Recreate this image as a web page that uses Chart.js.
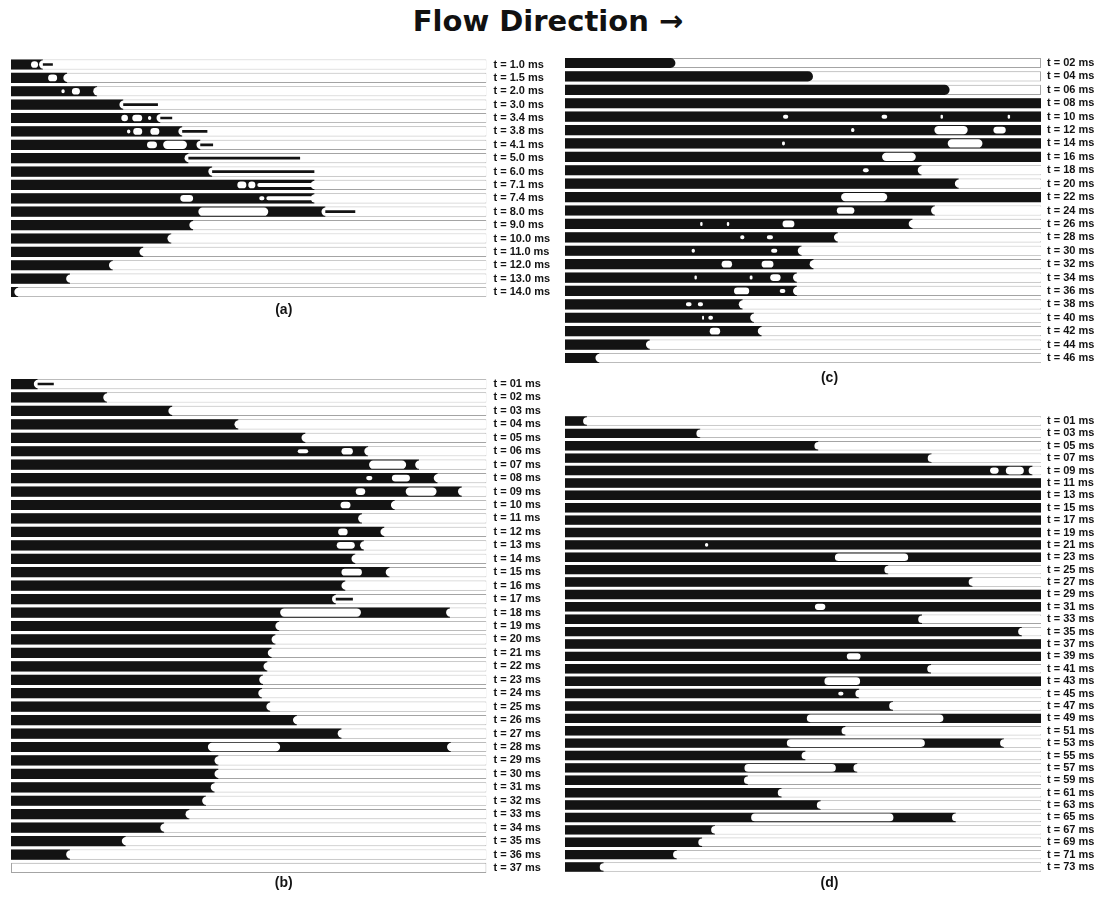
<!DOCTYPE html>
<html>
<head>
<meta charset="utf-8">
<script src="https://cdn.jsdelivr.net/npm/chart.js@4.4.1/dist/chart.umd.min.js"></script>
<style>
  html, body { margin: 0; padding: 0; background: #fff; }
  #page { position: relative; width: 1096px; height: 898px; overflow: hidden; background: #fff; }
  #heading { position: absolute; left: 0; top: 4px; width: 1096px; height: 40px; line-height: 40px;
             text-align: center; font: bold 29px 'DejaVu Sans', sans-serif; color: #111; }
  canvas { position: absolute; }
</style>
</head>
<body>
<div id="page">
  <div id="heading">Flow Direction →</div>
  <canvas id="panelA"></canvas>
  <canvas id="panelB"></canvas>
  <canvas id="panelC"></canvas>
  <canvas id="panelD"></canvas>
</div>
<script>
// Positions are % of channel length (0 = inlet, 100 = outlet).
// liquid*: extent of the liquid column in each frame.
// slugs/bubbles/dots: gas pockets inside the liquid as [row, start, end].
// films: thin liquid films left on the wall as [row, start, end].

// ---------- (a) ----------
const labelsA = ['t = 1.0 ms','t = 1.5 ms','t = 2.0 ms','t = 3.0 ms','t = 3.4 ms','t = 3.8 ms','t = 4.1 ms',
  't = 5.0 ms','t = 6.0 ms','t = 7.1 ms','t = 7.4 ms','t = 8.0 ms','t = 9.0 ms','t = 10.0 ms','t = 11.0 ms',
  't = 12.0 ms','t = 13.0 ms','t = 14.0 ms'];
const liquidA = [6.7, 11.8, 18.1, 23.6, 31.4, 36.0, 39.8, 37.3, 42.3, 63.8, 63.8, 66.1, 38.3, 33.7, 27.8, 21.4, 12.4, 1.5];
const slugsA = [[6, 32.0, 37.0], [11, 39.4, 54.1]];
const bubblesA = [[0, 4.2, 5.7], [1, 7.8, 9.7], [2, 12.8, 14.5], [4, 23.2, 24.6], [4, 25.5, 27.6],
  [5, 25.7, 27.6], [5, 29.3, 31.2], [6, 28.6, 30.7], [9, 47.6, 49.5], [9, 49.9, 51.4], [10, 35.6, 38.3]];
const dotsA = [[2, 10.6, 11.3], [4, 28.8, 29.5], [5, 24.4, 25.1], [9, 51.8, 63.4], [10, 52.2, 53.3], [10, 53.7, 63.4]];
const filmsA = [[0, 6.7, 8.8], [3, 23.6, 30.9], [4, 31.4, 33.9], [5, 36.0, 41.3], [6, 39.8, 42.5],
  [7, 37.3, 60.8], [8, 42.3, 63.8], [11, 66.1, 72.4]];
const convexA = [];

// ---------- (b) ----------
const labelsB = ['t = 01 ms','t = 02 ms','t = 03 ms','t = 04 ms','t = 05 ms','t = 06 ms','t = 07 ms','t = 08 ms',
  't = 09 ms','t = 10 ms','t = 11 ms','t = 12 ms','t = 13 ms','t = 14 ms','t = 15 ms','t = 16 ms','t = 17 ms',
  't = 18 ms','t = 19 ms','t = 20 ms','t = 21 ms','t = 22 ms','t = 23 ms','t = 24 ms','t = 25 ms','t = 26 ms',
  't = 27 ms','t = 28 ms','t = 29 ms','t = 30 ms','t = 31 ms','t = 32 ms','t = 33 ms','t = 34 ms','t = 35 ms',
  't = 36 ms','t = 37 ms'];
const liquidB = [5.6, 20.2, 33.9, 47.8, 61.9, 75.1, 85.8, 89.7, 94.8, 80.7, 73.8, 78.5, 74.2, 72.4, 79.6, 70.3, 68.3,
  92.3, 56.4, 55.6, 54.8, 53.9, 53.0, 52.8, 54.5, 60.1, 69.5, 92.5, 43.6, 43.6, 42.8, 41.0, 37.5, 32.2, 24.1, 12.4, 0];
const slugsB = [[6, 75.3, 83.1], [8, 83.0, 89.5], [17, 56.6, 73.6], [27, 41.4, 56.6]];
const bubblesB = [[5, 69.5, 71.9], [7, 80.1, 83.9], [8, 72.5, 74.5], [9, 69.3, 71.4], [11, 68.8, 70.8],
  [12, 68.5, 72.3], [14, 69.5, 73.8]];
const dotsB = [[5, 60.3, 62.5], [7, 74.7, 76.0]];
const filmsB = [[0, 5.6, 9.0], [16, 68.3, 71.9]];
const convexB = [];

// ---------- (c) ----------
const labelsC = ['t = 02 ms','t = 04 ms','t = 06 ms','t = 08 ms','t = 10 ms','t = 12 ms','t = 14 ms','t = 16 ms',
  't = 18 ms','t = 20 ms','t = 22 ms','t = 24 ms','t = 26 ms','t = 28 ms','t = 30 ms','t = 32 ms','t = 34 ms',
  't = 36 ms','t = 38 ms','t = 40 ms','t = 42 ms','t = 44 ms','t = 46 ms'];
const liquidC = [23.2, 52.1, 80.8, 100, 100, 100, 100, 100, 74.9, 82.7, 100, 77.7, 73.0, 57.3, 49.7, 52.2, 48.7,
  48.7, 37.3, 39.7, 41.3, 17.8, 7.2];
const slugsC = [[5, 77.6, 84.6], [6, 80.4, 87.7], [7, 66.6, 73.7], [10, 58.0, 67.7]];
const bubblesC = [[5, 90.0, 92.6], [11, 57.1, 60.8], [12, 45.7, 48.2], [15, 32.9, 35.1], [15, 41.3, 43.8],
  [16, 43.1, 45.3], [17, 35.5, 38.7], [20, 30.4, 32.6]];
const dotsC = [[4, 45.8, 46.9], [4, 66.5, 67.7], [4, 78.9, 79.4], [4, 93.0, 93.5], [5, 60.1, 60.8], [6, 45.6, 46.2],
  [8, 62.6, 63.8], [12, 28.4, 28.9], [12, 34.0, 34.5], [13, 36.8, 37.7], [13, 42.4, 43.7], [14, 26.6, 27.3],
  [14, 43.3, 44.6], [16, 27.2, 27.7], [16, 38.8, 39.4], [17, 45.1, 46.3], [18, 25.4, 26.6], [18, 27.9, 29.0],
  [19, 28.8, 29.2], [19, 30.1, 31.1]];
const filmsC = [];
const convexC = [0, 1, 2];

// ---------- (d) ----------
const labelsD = ['t = 01 ms','t = 03 ms','t = 05 ms','t = 07 ms','t = 09 ms','t = 11 ms','t = 13 ms','t = 15 ms',
  't = 17 ms','t = 19 ms','t = 21 ms','t = 23 ms','t = 25 ms','t = 27 ms','t = 29 ms','t = 31 ms','t = 33 ms',
  't = 35 ms','t = 37 ms','t = 39 ms','t = 41 ms','t = 43 ms','t = 45 ms','t = 47 ms','t = 49 ms','t = 51 ms',
  't = 53 ms','t = 55 ms','t = 57 ms','t = 59 ms','t = 61 ms','t = 63 ms','t = 65 ms','t = 67 ms','t = 69 ms',
  't = 71 ms','t = 73 ms'];
const liquidD = [4.6, 28.4, 53.2, 77.0, 98.2, 100, 100, 100, 100, 100, 100, 100, 67.9, 85.6, 100, 100, 75.0, 96.0,
  100, 100, 76.9, 100, 61.8, 68.9, 100, 58.9, 92.2, 50.5, 61.4, 38.4, 45.5, 53.7, 82.1, 31.5, 28.8, 23.5, 8.1];
const slugsD = [[4, 92.6, 96.4], [11, 56.7, 72.1], [21, 54.5, 62.0], [24, 50.8, 79.5], [26, 46.6, 75.6],
  [28, 37.7, 56.9], [32, 39.1, 69.0]];
const bubblesD = [[4, 89.3, 91.1], [15, 52.5, 54.7], [19, 59.2, 62.1]];
const dotsD = [[10, 29.4, 30.1], [22, 57.4, 58.5]];
const filmsD = [];
const convexD = [];

// ---------- drawing ----------
const INK = '#131313';
const FONT = "'Liberation Sans', Arial, sans-serif";
const MENISCUS = 0.8;   // depth of a concave gas front, % of channel length
const CH = 0.76, SLUG = 0.62, BUB = 0.5, DOT = 0.3, FILM = 0.2;
Chart.defaults.font.family = FONT;

// Spread [row, start, end] items over as many datasets as needed (one item per row per dataset).
function slotSets(items, n, base) {
  const slots = [];
  const used = {};
  items.forEach(([row, s, e]) => {
    const k = used[row] = (used[row] === undefined ? 0 : used[row] + 1);
    if (!slots[k]) slots[k] = new Array(n).fill(null);
    slots[k][row] = [s, e];
  });
  return slots.map((data, k) => Object.assign({}, base, { label: base.label + ' ' + (k + 1), data }));
}

function drawPanel(id, p, g) {
  const n = p.labels.length;
  const canvas = document.getElementById(id);
  canvas.width = g.cw; canvas.height = g.ch;
  canvas.style.left = g.cl + 'px'; canvas.style.top = g.ct + 'px';
  const titleLH = 14 * 1.2;
  const titlePadTop = Math.max(0, g.titleY - g.y1 - titleLH / 2);
  const common = { grouped: false, categoryPercentage: 1, borderSkipped: false, borderWidth: 0 };
  const datasets = [
    Object.assign({}, common, { label: 'channel', data: p.labels.map(() => [0, 100]), backgroundColor: '#fff',
      borderColor: '#a4a4a4', borderWidth: 1, barPercentage: CH, order: 9 }),
    Object.assign({}, common, { label: 'liquid', data: p.liquid.map(v => v > 0 ? [0, v] : null),
      backgroundColor: INK, barPercentage: CH, order: 8,
      borderRadius: ctx => p.convex.includes(ctx.dataIndex)
        ? { topLeft: 0, bottomLeft: 0, topRight: 99, bottomRight: 99 } : 0 }),
    Object.assign({}, common, { label: 'gas front',
      data: p.liquid.map((v, i) => (v > 0 && v < 100 && !p.convex.includes(i)) ? [v - MENISCUS, 100] : null),
      backgroundColor: '#fff', barPercentage: SLUG, order: 7,
      borderRadius: { topLeft: 99, bottomLeft: 99, topRight: 0, bottomRight: 0 } }),
    ...slotSets(p.slugs, n, Object.assign({}, common, { label: 'slug', backgroundColor: '#fff', barPercentage: SLUG, borderRadius: 99, order: 6 })),
    ...slotSets(p.bubbles, n, Object.assign({}, common, { label: 'bubble', backgroundColor: '#fff', barPercentage: BUB, borderRadius: 99, order: 5 })),
    ...slotSets(p.films, n, Object.assign({}, common, { label: 'film', backgroundColor: INK, barPercentage: FILM, order: 4 })),
    ...slotSets(p.dots, n, Object.assign({}, common, { label: 'dot', backgroundColor: '#fff', barPercentage: DOT, borderRadius: 99, order: 3 }))
  ];
  new Chart(canvas, {
    type: 'bar',
    data: { labels: p.labels, datasets },
    options: {
      indexAxis: 'y',
      responsive: false,
      animation: false,
      events: [],
      layout: { padding: {
        left: g.x0 - g.cl,
        top: g.y0 - g.ct,
        right: g.cl + g.cw - g.x1 - g.axisW,
        bottom: g.ct + g.ch - g.y1 - titlePadTop - titleLH } },
      plugins: {
        legend: { display: false },
        tooltip: { enabled: false },
        title: { display: true, position: 'bottom', text: p.title, color: INK,
          font: { family: FONT, size: 14, weight: 'bold', lineHeight: 1.2 },
          padding: { top: titlePadTop, bottom: 0 } }
      },
      scales: {
        x: { type: 'linear', min: 0, max: 100, display: false },
        y: { type: 'category', position: 'right', offset: true,
          grid: { display: false, drawTicks: false }, border: { display: false },
          ticks: { color: INK, font: { family: FONT, size: 11, weight: 'bold' }, padding: g.tickPad,
            autoSkip: false },
          afterFit: s => { s.width = g.axisW; } }
      }
    }
  });
}

drawPanel('panelA',
  { title: '(a)', labels: labelsA, liquid: liquidA, slugs: slugsA, bubbles: bubblesA, dots: dotsA, films: filmsA, convex: convexA },
  { cl: 0, ct: 40, cw: 560, ch: 285, x0: 11, x1: 486.5, y0: 57.8, y1: 298.7, titleY: 310, axisW: 70, tickPad: 7 });
drawPanel('panelB',
  { title: '(b)', labels: labelsB, liquid: liquidB, slugs: slugsB, bubbles: bubblesB, dots: dotsB, films: filmsB, convex: convexB },
  { cl: 0, ct: 355, cw: 560, ch: 543, x0: 11, x1: 486.5, y0: 377.3, y1: 874.7, titleY: 883, axisW: 70, tickPad: 7 });
drawPanel('panelC',
  { title: '(c)', labels: labelsC, liquid: liquidC, slugs: slugsC, bubbles: bubblesC, dots: dotsC, films: filmsC, convex: convexC },
  { cl: 548, ct: 36, cw: 548, ch: 362, x0: 565, x1: 1041, y0: 56.3, y1: 364.7, titleY: 378, axisW: 53, tickPad: 6 });
drawPanel('panelD',
  { title: '(d)', labels: labelsD, liquid: liquidD, slugs: slugsD, bubbles: bubblesD, dots: dotsD, films: filmsD, convex: convexD },
  { cl: 548, ct: 398, cw: 548, ch: 500, x0: 565, x1: 1041, y0: 414.8, y1: 873.2, titleY: 883, axisW: 53, tickPad: 6 });
</script>
</body>
</html>
